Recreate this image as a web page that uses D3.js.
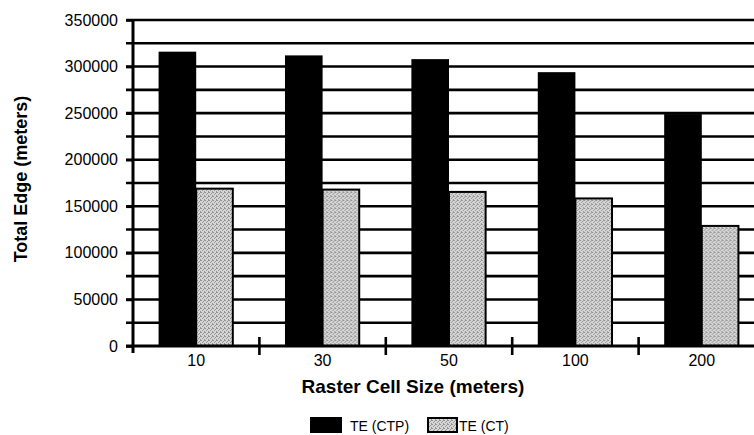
<!DOCTYPE html>
<html>
<head>
<meta charset="utf-8">
<script src="https://cdn.jsdelivr.net/npm/d3@7"></script>
<style>
  html, body { margin: 0; padding: 0; background: #fff; }
  svg { display: block; font-family: "Liberation Sans", Arial, sans-serif; }
</style>
</head>
<body>
<svg id="chart" width="754" height="435"></svg>
<script>
// Total edge length by raster cell size
const categories = ["10", "30", "50", "100", "200"];
const seriesNames = ["TE (CTP)", "TE (CT)"];
const teCTP = [316000, 312000, 308000, 294000, 249000];
const teCT = [170000, 169000, 166500, 159500, 130000];
const yTickLabels = [0, 50000, 100000, 150000, 200000, 250000, 300000, 350000];
const yGridValues = d3.range(0, 350001, 25000);

const svg = d3.select("#chart");

// stippled light-grey fill for the second series
const defs = svg.append("defs");
const pat = defs.append("pattern")
  .attr("id", "stipple").attr("patternUnits", "userSpaceOnUse")
  .attr("width", 4).attr("height", 4);
pat.append("rect").attr("width", 4).attr("height", 4).attr("fill", "#d6d6d6");
[[0,0],[2,1],[1,2],[3,3],[3,0]].forEach(([px, py]) =>
  pat.append("rect").attr("x", px).attr("y", py).attr("width", 1).attr("height", 1).attr("fill", "#939393"));

const plotLeft = 133, plotRight = 765, plotTop = 20, plotBottom = 346;

const x = d3.scaleBand().domain(categories).range([plotLeft, plotRight]).paddingInner(0).paddingOuter(0);
const xInner = d3.scaleBand().domain(seriesNames).range([0, x.bandwidth()]).paddingInner(0).paddingOuter(0.68);
const y = d3.scaleLinear().domain([0, 350000]).range([plotBottom, plotTop]);

// horizontal grid every 25000
svg.append("g").selectAll("line").data(yGridValues.filter(v => v > 0)).join("line")
  .attr("x1", plotLeft - 7).attr("x2", plotRight)
  .attr("y1", d => y(d)).attr("y2", d => y(d))
  .attr("stroke", "#000").attr("stroke-width", 2.6);

// bars
const groups = svg.append("g").selectAll("g").data(categories).join("g")
  .attr("transform", d => `translate(${x(d)},0)`);

groups.append("rect")
  .attr("x", xInner(seriesNames[0]))
  .attr("width", xInner.bandwidth())
  .attr("y", (d, i) => y(teCTP[i]))
  .attr("height", (d, i) => y(0) - y(teCTP[i]))
  .attr("fill", "#000");

groups.append("rect")
  .attr("x", xInner(seriesNames[1]))
  .attr("width", xInner.bandwidth() - 1)
  .attr("y", (d, i) => y(teCT[i]) + 1)
  .attr("height", (d, i) => y(0) - y(teCT[i]) - 1)
  .attr("fill", "url(#stipple)")
  .attr("stroke", "#000").attr("stroke-width", 2);

// y axis
const yAxis = d3.axisLeft(y).tickValues(yTickLabels).tickSize(7).tickPadding(8)
  .tickFormat(d3.format("d"));
const ya = svg.append("g").attr("transform", `translate(${plotLeft},0)`).call(yAxis);
ya.select(".domain").remove();
ya.selectAll(".tick line").attr("stroke-width", 2.6);
ya.selectAll(".tick text").attr("font-size", 16).attr("fill", "#000")
  .attr("font-family", "'Liberation Sans', Arial, sans-serif");
svg.append("line").attr("x1", plotLeft).attr("x2", plotLeft).attr("y1", plotTop).attr("y2", plotBottom + 7)
  .attr("stroke", "#000").attr("stroke-width", 3);

// x axis
const xAxis = d3.axisBottom(x).tickSize(0).tickPadding(9);
const xa = svg.append("g").attr("transform", `translate(0,${plotBottom})`).call(xAxis);
xa.select(".domain").remove();
xa.selectAll(".tick text").attr("font-size", 16).attr("fill", "#000")
  .attr("font-family", "'Liberation Sans', Arial, sans-serif");
svg.append("line").attr("x1", plotLeft - 7).attr("x2", plotRight).attr("y1", plotBottom).attr("y2", plotBottom)
  .attr("stroke", "#000").attr("stroke-width", 3);
// category boundary ticks
svg.append("g").selectAll("line").data(categories.slice(1)).join("line")
  .attr("x1", d => x(d)).attr("x2", d => x(d))
  .attr("y1", plotBottom - 9).attr("y2", plotBottom + 9)
  .attr("stroke", "#000").attr("stroke-width", 2.6);

// axis titles
svg.append("text").attr("x", 413).attr("y", 393).attr("text-anchor", "middle")
  .attr("font-size", 19).attr("font-weight", "bold").text("Raster Cell Size (meters)");
svg.append("text").attr("transform", "translate(27,179) rotate(-90)").attr("text-anchor", "middle")
  .attr("font-size", 18).attr("font-weight", "bold").text("Total Edge (meters)");

// legend
const legend = svg.append("g");
legend.append("rect").attr("x", 310).attr("y", 417).attr("width", 32).attr("height", 16).attr("fill", "#000");
legend.append("text").attr("x", 350).attr("y", 431).attr("font-size", 14).text(seriesNames[0]);
legend.append("rect").attr("x", 428).attr("y", 418).attr("width", 29).attr("height", 14)
  .attr("fill", "url(#stipple)").attr("stroke", "#000").attr("stroke-width", 2);
legend.append("text").attr("x", 459).attr("y", 431).attr("font-size", 14).text(seriesNames[1]);
</script>
</body>
</html>
